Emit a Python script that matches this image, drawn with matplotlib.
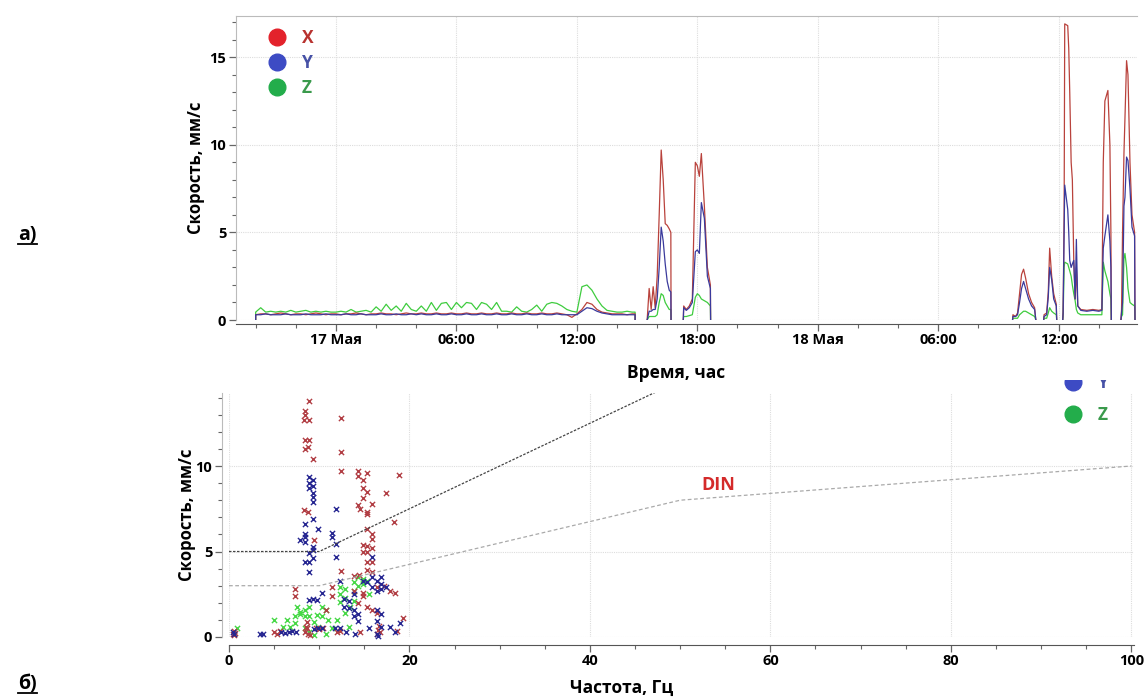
import numpy as np
import matplotlib
matplotlib.use("Agg")
import matplotlib.pyplot as plt
from matplotlib.lines import Line2D
from matplotlib.patches import Rectangle
from matplotlib.ticker import MultipleLocator

plt.rcParams['font.family'] = ['Open Sans', 'DejaVu Sans']
plt.rcParams['font.weight'] = 'bold'

# ---- panel a: velocity vs time (hours from 17 May 00:00) ----
TIME_TICKS = [0, 6, 12, 18, 24, 30, 36]
TIME_LABELS = ["17 Мая", "06:00", "12:00", "18:00", "18 Мая", "06:00", "12:00"]

# quiet period, sampled every 15 min from 16 May 20:00
base_start, base_step = -4.0, 0.25
base_x = [0.3, 0.35, 0.35, 0.3, 0.35, 0.4, 0.35, 0.3, 0.35, 0.35, 0.3, 0.35, 0.4, 0.35, 0.3, 0.35,
          0.35, 0.3, 0.35, 0.35, 0.4, 0.35, 0.3, 0.35, 0.35, 0.4, 0.35, 0.35, 0.3, 0.35, 0.4, 0.35,
          0.35, 0.4, 0.35, 0.35, 0.4, 0.35, 0.35, 0.4, 0.35, 0.35, 0.4, 0.35, 0.35, 0.4, 0.35, 0.35,
          0.4, 0.35, 0.35, 0.4, 0.35, 0.35, 0.4, 0.35, 0.35, 0.4, 0.35, 0.35, 0.4, 0.35, 0.3, 0.15,
          0.35, 0.6, 1.0, 0.9, 0.6, 0.45, 0.4, 0.35, 0.35, 0.35, 0.3, 0.35]
base_y = [0.3, 0.3, 0.35, 0.3, 0.3, 0.3, 0.35, 0.3, 0.3, 0.3, 0.35, 0.3, 0.3, 0.3, 0.35, 0.3,
          0.3, 0.3, 0.35, 0.3, 0.3, 0.35, 0.3, 0.3, 0.3, 0.35, 0.3, 0.3, 0.35, 0.3, 0.3, 0.35,
          0.3, 0.35, 0.3, 0.3, 0.35, 0.3, 0.3, 0.35, 0.3, 0.3, 0.35, 0.3, 0.3, 0.35, 0.3, 0.3,
          0.35, 0.3, 0.3, 0.35, 0.3, 0.3, 0.35, 0.3, 0.3, 0.35, 0.3, 0.3, 0.35, 0.3, 0.3, 0.3,
          0.3, 0.5, 0.7, 0.65, 0.5, 0.4, 0.35, 0.3, 0.3, 0.3, 0.3, 0.3]
base_z = [0.45, 0.7, 0.45, 0.5, 0.45, 0.5, 0.45, 0.55, 0.45, 0.5, 0.55, 0.45, 0.5, 0.45, 0.5, 0.45,
          0.45, 0.5, 0.45, 0.6, 0.45, 0.5, 0.55, 0.45, 0.75, 0.5, 0.9, 0.55, 0.8, 0.5, 0.95, 0.6,
          0.5, 0.8, 0.5, 1.0, 0.55, 0.95, 1.0, 0.6, 1.0, 0.7, 1.0, 0.95, 0.6, 1.0, 0.9, 0.6,
          1.0, 0.5, 0.5, 0.45, 0.75, 0.5, 0.45, 0.6, 0.85, 0.5, 0.9, 1.0, 0.95, 0.8, 0.6, 0.5,
          0.45, 1.9, 2.0, 1.7, 1.2, 0.8, 0.55, 0.5, 0.45, 0.45, 0.5, 0.45]
base_end = 14.9

# blasting / working periods, NaN separates the recordings
nan = np.nan
ev_t = [15.5, 15.6, 15.7, 15.8, 15.9, 16.0, 16.1, 16.2, 16.3, 16.4, 16.5, 16.6, 16.68, 16.69, nan,
        17.3, 17.32, 17.45, 17.6, 17.75, 17.9, 18.0, 18.1, 18.2, 18.35, 18.5, 18.65, 18.66, nan,
        33.7, 33.72, 33.85, 33.95, 34.05, 34.15, 34.25, 34.35, 34.5, 34.65, 34.8, 34.86, nan,
        35.25, 35.27, 35.4, 35.48, 35.55, 35.65, 35.75, 35.88, 35.9, nan,
        36.2, 36.22, 36.27, 36.3, 36.45, 36.5, 36.55, 36.62, 36.68, 36.75, 36.82, 36.88, 36.95,
        37.1, 37.4, 37.7, 38.0, 38.15, 38.22, 38.3, 38.45, 38.55, 38.6, 38.62, nan,
        39.1, 39.13, 39.18, 39.25, 39.3, 39.38, 39.45, 39.55, 39.65, 39.78, 39.8]
ev_x = [0.0, 1.8, 0.6, 1.9, 0.7, 2.5, 6.0, 9.7, 8.0, 5.5, 5.4, 5.2, 5.0, 0.0, nan,
        0.0, 0.8, 0.6, 0.8, 1.2, 9.0, 8.8, 8.2, 9.5, 6.5, 3.0, 2.0, 0.0, nan,
        0.0, 0.3, 0.2, 0.4, 1.5, 2.6, 2.9, 2.4, 1.5, 1.0, 0.7, 0.0, nan,
        0.0, 0.3, 0.4, 1.6, 4.1, 2.5, 1.5, 0.9, 0.0, nan,
        0.0, 0.5, 6.0, 16.9, 16.8, 15.5, 13.0, 9.0, 8.0, 3.4, 1.2, 3.0, 0.8,
        0.6, 0.55, 0.6, 0.55, 0.6, 9.0, 12.5, 13.1, 10.0, 5.0, 0.0, nan,
        0.0, 0.6, 5.0, 9.5, 11.5, 14.8, 14.0, 9.0, 6.0, 5.0, 0.0]
ev_y = [0.0, 0.5, 0.5, 0.6, 0.6, 1.2, 3.0, 5.3, 4.5, 3.2, 2.2, 1.7, 1.6, 0.0, nan,
        0.0, 0.7, 0.55, 0.7, 1.0, 3.9, 4.0, 3.8, 6.7, 5.8, 2.5, 1.8, 0.0, nan,
        0.0, 0.2, 0.2, 0.3, 1.0, 1.8, 2.2, 1.8, 1.2, 0.8, 0.6, 0.0, nan,
        0.0, 0.2, 0.3, 1.3, 3.0, 2.3, 1.2, 0.8, 0.0, nan,
        0.0, 0.4, 5.0, 7.7, 6.3, 5.0, 3.4, 3.0, 3.2, 3.4, 1.2, 4.6, 0.8,
        0.55, 0.5, 0.55, 0.5, 0.55, 4.1, 4.8, 6.0, 4.5, 3.0, 0.0, nan,
        0.0, 0.4, 1.0, 6.5, 7.0, 9.3, 9.1, 7.5, 5.3, 4.8, 0.0]
ev_z = [0.0, 0.2, 0.2, 0.2, 0.2, 0.3, 1.0, 1.5, 1.4, 1.0, 0.8, 0.6, 0.6, 0.0, nan,
        0.0, 0.2, 0.2, 0.25, 0.3, 1.3, 1.5, 1.4, 1.2, 1.1, 1.0, 0.8, 0.0, nan,
        0.0, 0.1, 0.1, 0.1, 0.3, 0.4, 0.5, 0.5, 0.4, 0.3, 0.2, 0.0, nan,
        0.0, 0.1, 0.1, 0.4, 0.7, 0.5, 0.4, 0.3, 0.0, nan,
        0.0, 0.2, 3.0, 3.3, 3.2, 3.0, 2.8, 2.5, 2.0, 1.5, 1.1, 0.6, 0.4,
        0.3, 0.3, 0.3, 0.3, 0.3, 3.3, 2.8, 2.2, 1.5, 1.2, 0.0, nan,
        0.0, 0.2, 0.3, 3.5, 3.8, 3.0, 1.8, 1.0, 0.9, 0.8, 0.0]

# ---- panel b: peak velocity vs dominant frequency ----
pts_x_f = [0.4, 0.5, 0.6, 0.7, 5.0, 5.3, 5.6, 8.4, 8.5, 8.6, 8.8, 8.7, 9.6, 10.0, 10.4, 12.3,
           16.4, 16.5, 16.6, 16.7, 18.6, 8.87, 8.4, 8.45, 8.35, 8.87, 12.4, 8.4, 8.9, 8.4, 8.8,
           9.35, 12.4, 12.4, 14.3, 15.3, 14.3, 14.8, 18.8, 14.8, 15.3, 14.8, 17.4, 14.3, 14.5,
           15.8, 15.3, 15.3, 8.35, 8.8, 18.3, 15.3, 15.8, 15.8, 9.4, 14.8, 15.3, 15.8, 14.8, 15.3,
           15.3, 15.8, 15.3, 15.8, 12.4, 13.9, 14.4, 7.35, 7.35, 11.4, 11.4, 14.8, 14.8, 16.4,
           17.2, 17.8, 18.4, 13.8, 14.3, 10.8, 15.3, 15.8, 16.4, 19.3, 12.0, 14.5, 9.0]
pts_x_v = [0.2, 0.35, 0.1, 0.25, 0.3, 0.2, 0.35, 0.3, 0.6, 0.9, 0.2, 0.5, 0.5, 0.45, 0.55, 0.35,
           0.15, 0.4, 0.65, 0.3, 0.35, 13.8, 13.2, 13.0, 12.7, 12.7, 12.8, 11.5, 11.5, 11.0, 11.1,
           10.4, 10.8, 9.7, 9.7, 9.6, 9.4, 9.2, 9.5, 8.7, 8.5, 8.1, 8.4, 7.7, 7.5,
           7.8, 7.3, 7.2, 7.4, 7.3, 6.7, 6.3, 6.0, 5.75, 5.7, 5.4, 5.3, 5.2, 5.0, 5.0,
           4.4, 4.4, 3.9, 3.8, 3.85, 3.55, 3.6, 2.8, 2.4, 2.9, 2.4, 2.6, 2.4, 2.9,
           3.0, 2.7, 2.6, 2.7, 2.0, 1.55, 1.75, 1.55, 1.4, 1.1, 0.3, 0.3, 0.1]
pts_y_f = [0.4, 0.6, 3.4, 3.8, 5.8, 6.2, 6.6, 7.0, 7.4, 9.4, 9.9, 10.3, 11.7, 16.4, 16.5, 17.8,
           19.0, 18.4, 8.9, 9.3, 8.9, 9.3, 8.9, 9.3, 9.3, 9.35, 8.4, 8.4, 8.4, 7.9, 8.4, 9.35,
           9.9, 9.35, 9.35, 8.87, 8.4, 8.87, 9.35, 8.87, 11.4, 11.4, 11.9, 11.9, 11.9, 15.8, 14.8,
           15.3, 15.8, 16.4, 16.9, 16.9, 17.4, 15.8, 16.4, 16.9, 12.3, 12.8, 12.8, 10.3, 9.8, 9.35,
           8.87, 13.3, 13.8, 13.3, 13.8, 14.3, 14.3, 13.8, 16.4, 16.4, 16.9, 16.9, 12.3, 13.0,
           14.0, 15.5]
pts_y_v = [0.3, 0.2, 0.2, 0.2, 0.3, 0.25, 0.3, 0.35, 0.3, 0.45, 0.5, 0.5, 0.5, 0.2, 0.05, 0.6,
           0.8, 0.3, 9.35, 9.2, 9.0, 8.85, 8.7, 8.45, 8.2, 7.9, 6.6, 6.05, 5.85, 5.65, 5.55, 6.9,
           6.3, 5.25, 5.1, 4.9, 4.4, 4.4, 4.6, 3.8, 6.1, 5.85, 5.45, 4.7, 7.5, 4.7, 3.3,
           3.2, 3.5, 3.3, 3.5, 3.1, 2.9, 2.9, 2.7, 2.8, 3.3, 2.2, 1.75, 2.6, 2.15, 2.25,
           2.15, 2.1, 2.5, 1.7, 1.55, 1.35, 0.95, 1.2, 1.55, 0.95, 1.35, 0.6, 0.5, 0.3,
           0.15, 0.5]
pts_z_f = [0.85, 0.5, 14.3, 14.8, 15.3, 14.8, 14.3, 13.8, 12.3, 12.9, 12.3, 12.9, 12.3, 13.4,
           12.9, 13.8, 10.8, 10.3, 9.8, 7.5, 7.9, 8.4, 8.9, 5.0, 6.4, 7.3, 7.9, 8.4, 8.9, 6.0,
           6.8, 8.4, 8.9, 9.4, 9.9, 11.4, 10.8, 7.3, 11.0, 10.3, 9.4, 12.0, 13.3, 15.5, 13.9]
pts_z_v = [0.5, 0.15, 3.5, 3.4, 3.3, 3.1, 3.0, 3.2, 2.9, 2.8, 2.5, 2.3, 2.05, 1.75,
           1.4, 2.1, 1.55, 1.75, 1.3, 1.75, 1.45, 1.55, 1.75, 1.0, 1.0, 1.2, 1.35, 1.25, 1.25, 0.6,
           0.6, 0.5, 0.3, 0.1, 0.6, 0.5, 0.2, 0.8, 1.0, 1.2, 0.9, 1.0, 0.6, 2.5, 2.7]

# DIN 4150-3 guideline lines
din_f = [0, 10, 50, 100]
din_line3_v = [3, 3, 8, 10]
din_line2_v = [5, 5, 15, 20]

SERIES = ["X", "Y", "Z"]
LINE_COLORS = {"X": "#b9423c", "Y": "#3a3a9c", "Z": "#3fcc3f"}
DOT_COLORS = {"X": "#e3222b", "Y": "#3d4bc4", "Z": "#23ad4b"}
TEXT_COLORS = {"X": "#b8322f", "Y": "#4651a6", "Z": "#3a9a4c"}
PT_COLORS = {"X": "#b13e44", "Y": "#262691", "Z": "#45d845"}

W, H = 1147, 697
fig = plt.figure(figsize=(W / 100, H / 100), dpi=100)


def fx(px):
    return px / W


def fy(py):
    return 1 - py / H


def style_axes(ax):
    ax.spines['top'].set_visible(False)
    ax.spines['right'].set_visible(False)
    ax.spines['left'].set_color('#bbbbbb')
    ax.spines['bottom'].set_color('#555555')
    ax.tick_params(which='both', direction='out', colors='#666666', labelcolor='black',
                   labelsize=10.5)
    ax.tick_params(which='major', length=5, width=0.9)
    ax.tick_params(which='minor', length=3, width=0.8)
    ax.tick_params(axis='x', which='major', pad=1.5)
    ax.tick_params(axis='y', which='major', pad=2)
    ax.grid(True, which='major', color='#dddddd', lw=0.8, ls=(0, (1, 1)))
    ax.set_axisbelow(True)


def dot_handles(names):
    return [Line2D([], [], ls='', marker='o', markersize=12, color=DOT_COLORS[s]) for s in names]


# ---------------- top panel ----------------
ax1 = fig.add_axes([fx(236), fy(320), fx(1137 - 236), fy(16) - fy(320)])
style_axes(ax1)
ax1.spines['top'].set_visible(True)
ax1.spines['top'].set_color('#bbbbbb')
ax1.spines['bottom'].set_position(('outward', 3))

base_t = base_start + base_step * np.arange(len(base_x))
series_base = {"X": base_x, "Y": base_y, "Z": base_z}
series_ev = {"X": ev_x, "Y": ev_y, "Z": ev_z}
for name in ["Z", "X", "Y"]:
    vals = series_base[name]
    t = np.concatenate([[base_t[0]], base_t, [base_end, base_end]])
    v = np.concatenate([[0.0], vals, [vals[-1], 0.0]])
    ax1.plot(t, v, color=LINE_COLORS[name], lw=0.9)
    ax1.plot(ev_t, series_ev[name], color=LINE_COLORS[name], lw=0.9)

ax1.set_xlim(-4.98, 39.9)
ax1.set_ylim(0, 17.35)
ax1.set_xticks(TIME_TICKS)
ax1.set_xticklabels(TIME_LABELS)
ax1.xaxis.set_minor_locator(MultipleLocator(2))
ax1.set_yticks([0, 5, 10, 15])
ax1.yaxis.set_minor_locator(MultipleLocator(1))
ax1.set_ylabel("Скорость, мм/с", fontsize=12, fontweight='bold')
ax1.yaxis.set_label_coords(-0.034, 0.5)
ax1.set_xlabel("Время, час", fontsize=12.5, fontweight='bold')
ax1.xaxis.set_label_coords(0.488, -0.145)

ax1.legend(dot_handles(SERIES), SERIES, loc='upper left', bbox_to_anchor=(0.019, 1.01),
           frameon=False, handlelength=1.0, handletextpad=0.9, labelspacing=0.42,
           prop={'size': 12.5, 'weight': 'bold'},
           labelcolor=[TEXT_COLORS[s] for s in SERIES])

# ---------------- bottom panel ----------------
ax2 = fig.add_axes([fx(229), fy(637), fx(1134 - 229), fy(393) - fy(637)])
style_axes(ax2)
ax2.spines['bottom'].set_position(('outward', 6))
ax2.spines['left'].set_position(('outward', 5))

ax2.plot(din_f, din_line3_v, color='#aaaaaa', lw=0.9, ls=(0, (3, 2)), zorder=3)
ax2.plot(din_f, din_line2_v, color='#444444', lw=0.9, ls=(0, (2, 1.2)), zorder=3)

pts = {"X": (pts_x_f, pts_x_v), "Y": (pts_y_f, pts_y_v), "Z": (pts_z_f, pts_z_v)}
for name in ["Z", "X", "Y"]:
    f, v = pts[name]
    ax2.scatter(f, v, marker='x', s=14, linewidths=1.0, color=PT_COLORS[name],
                clip_on=False, zorder=2)

ax2.text(54.2, 8.9, "DIN", color='#d42a2a', fontsize=13, fontweight='bold',
         ha='center', va='center')

ax2.set_xlim(0, 100.3)
ax2.set_ylim(0, 14.27)
ax2.set_xticks([0, 20, 40, 60, 80, 100])
ax2.xaxis.set_minor_locator(MultipleLocator(5))
ax2.set_yticks([0, 5, 10])
ax2.yaxis.set_minor_locator(MultipleLocator(1))
ax2.set_ylabel("Скорость, мм/с", fontsize=12, fontweight='bold')
ax2.yaxis.set_label_coords(-0.037, 0.5)
ax2.set_xlabel("Частота, Гц", fontsize=12.5, fontweight='bold')
ax2.xaxis.set_label_coords(0.434, -0.172)

# legend of panel b: the X entry lies outside the cropped source figure
shown = ["Y", "Z"]
ax2.legend(dot_handles(shown), shown, loc='upper left', bbox_to_anchor=(0.906, 1.143),
           frameon=False, handlelength=1.0, handletextpad=0.9, labelspacing=0.85,
           prop={'size': 12.5, 'weight': 'bold'},
           labelcolor=[TEXT_COLORS[s] for s in shown])

# the source figure is cropped just above panel b
fig.add_artist(Rectangle((fx(1030), fy(380)), fx(W - 1030), fy(350) - fy(380),
                         transform=fig.transFigure, facecolor='white', edgecolor='none',
                         zorder=10))

# panel letters
for txt, ybase in (("а)", 240), ("б)", 689)):
    fig.text(fx(18), fy(ybase), txt, fontsize=14, fontweight='bold', ha='left', va='baseline')
    fig.add_artist(Line2D([fx(18), fx(37)], [fy(ybase + 4), fy(ybase + 4)], color='black',
                          lw=1.3, transform=fig.transFigure))

fig.savefig("out.png", dpi=100)
